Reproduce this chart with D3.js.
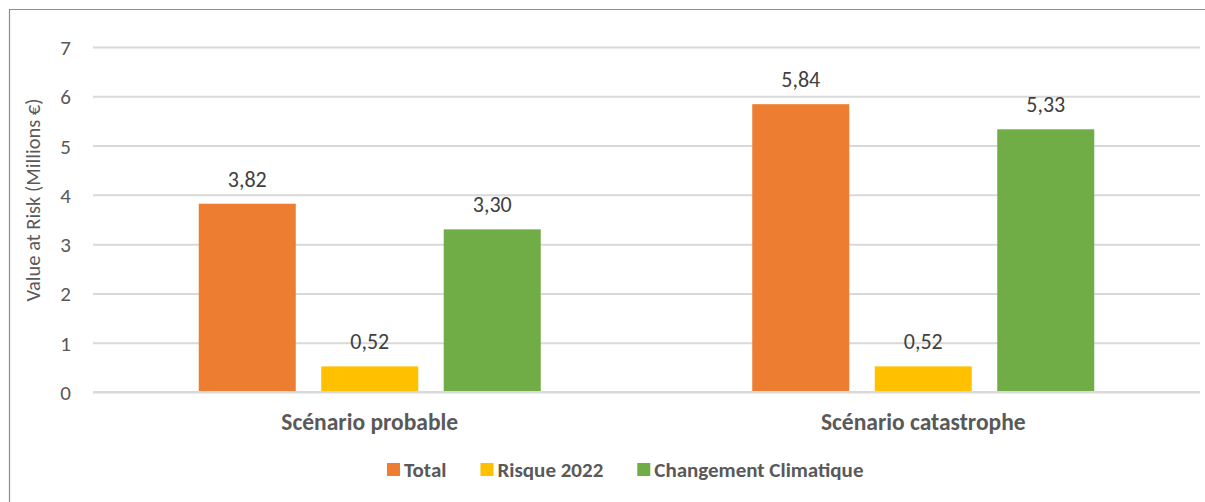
<!DOCTYPE html>
<html>
<head>
<meta charset="utf-8">
<script src="https://cdn.jsdelivr.net/npm/d3@7"></script>
<style>
body { margin: 0; background: #fff; }
svg text { font-family: Carlito, Lato, sans-serif; }
</style>
</head>
<body>
<script>
const categories = ['Scénario probable', 'Scénario catastrophe'];
const series = ['Total', 'Risque 2022', 'Changement Climatique'];
const values = {
  'Total': [3.82, 5.84],
  'Risque 2022': [0.52, 0.52],
  'Changement Climatique': [3.30, 5.33]
};
const colors = ['#ED7D31', '#FFC000', '#70AD47'];
const yTicks = [0, 1, 2, 3, 4, 5, 6, 7];
const yTitle = 'Value at Risk (Millions €)';

const width = 1205, height = 502;
const svg = d3.select(document.body).append('svg')
  .attr('width', width)
  .attr('height', height);

// frame (only top and left edges are visible in the crop)
svg.append('path')
  .attr('d', `M9.5,${height} V9.5 H${width}`)
  .attr('fill', 'none')
  .attr('stroke', '#8c8c8c')
  .attr('stroke-width', 1.2);

const y = d3.scaleLinear().domain([0, 7]).range([392, 47]);
const x0 = d3.scaleBand().domain(categories).range([93, 1200]);
const x1 = d3.scaleBand().domain(series).range([-171, 171]).paddingInner(0.208);
const color = d3.scaleOrdinal(series, colors);
const fmt = v => d3.format('.2f')(v).replace('.', ',');

// gridlines + tick labels
const yAxis = d3.axisLeft(y)
  .tickValues(yTicks)
  .tickFormat(d3.format('d'))
  .tickSize(-(1200 - 93))
  .tickPadding(22);
const gy = svg.append('g').attr('transform', 'translate(93,0)').call(yAxis);
gy.select('.domain').remove();
gy.selectAll('line').attr('stroke', '#d9d9d9').attr('stroke-width', 2);
gy.selectAll('text')
  .attr('fill', '#595959')
  .attr('font-size', 21)
  .attr('dy', '0.36em');

// axis title
svg.append('text')
  .attr('transform', 'translate(40,200) rotate(-90)')
  .attr('text-anchor', 'middle')
  .attr('fill', '#595959')
  .attr('font-size', 20.5)
  .text(yTitle);

// bars
const groups = svg.append('g').selectAll('g')
  .data(categories)
  .join('g')
  .attr('transform', d => `translate(${x0(d) + x0.bandwidth() / 2},0)`);

const bars = groups.selectAll('g')
  .data((c, i) => series.map(s => ({ s, v: values[s][i] })))
  .join('g');

bars.append('rect')
  .attr('x', d => x1(d.s))
  .attr('width', x1.bandwidth())
  .attr('y', d => y(d.v))
  .attr('height', d => y(0) - y(d.v))
  .attr('fill', d => color(d.s));

bars.append('text')
  .attr('x', d => x1(d.s) + x1.bandwidth() / 2)
  .attr('y', d => y(d.v) - 17)
  .attr('text-anchor', 'middle')
  .attr('fill', '#404040')
  .attr('font-size', 22)
  .text(d => fmt(d.v));

// baseline on top of bars
svg.append('line')
  .attr('x1', 93).attr('x2', 1200)
  .attr('y1', y(0)).attr('y2', y(0))
  .attr('stroke', '#d9d9d9').attr('stroke-width', 2);

// category labels
svg.append('g').selectAll('text')
  .data(categories)
  .join('text')
  .attr('x', d => x0(d) + x0.bandwidth() / 2)
  .attr('y', 430)
  .attr('text-anchor', 'middle')
  .attr('fill', '#595959')
  .attr('font-size', 23.5)
  .attr('font-weight', 'bold')
  .text(d => d);

// legend
const legend = svg.append('g');
let lx = 387;
series.forEach((s, i) => {
  legend.append('rect')
    .attr('x', lx).attr('y', 463)
    .attr('width', 13).attr('height', 13)
    .attr('fill', colors[i]);
  const t = legend.append('text')
    .attr('x', lx + 17).attr('y', 477)
    .attr('fill', '#595959')
    .attr('font-size', 21)
    .attr('font-weight', 'bold')
    .text(s);
  lx += 17 + t.node().getComputedTextLength() + 34;
});
</script>
</body>
</html>
